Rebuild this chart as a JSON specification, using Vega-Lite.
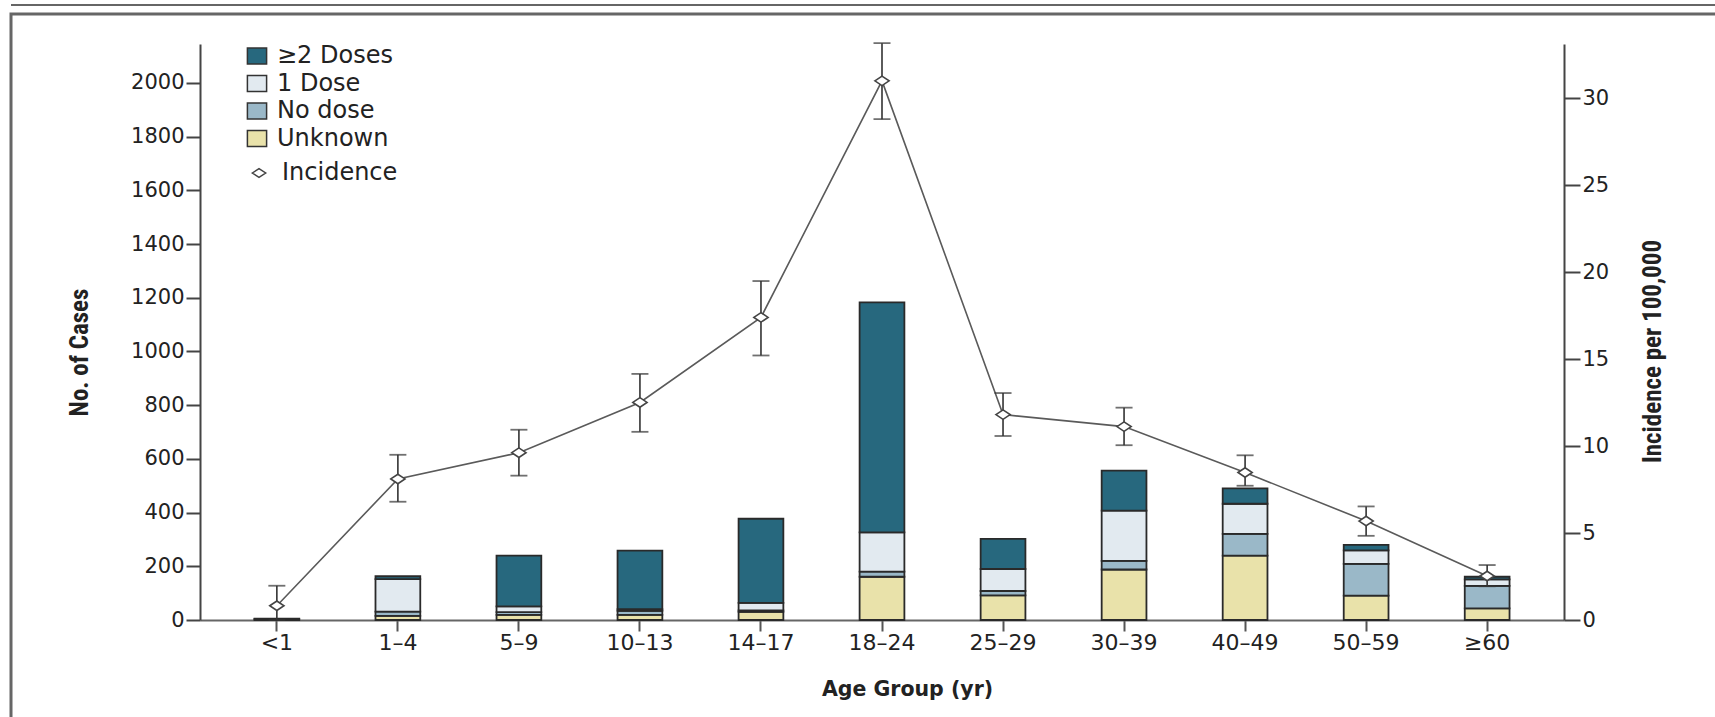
{
  "$schema": "https://vega.github.io/schema/vega-lite/v6.json",
  "width": 1704,
  "height": 703,
  "autosize": {"type": "none"},
  "padding": {"left": 11, "top": 14, "right": 0, "bottom": 0},
  "background": "white",
  "config": {
    "view": {"stroke": "#666666", "strokeWidth": 3, "strokeDash": [1704, 2407, 703]},
    "axis": {"grid": false}
  },
  "datasets": {
    "cases": [
      {"age": "<1", "status": "Unknown", "rank": 1, "n": 3},
      {"age": "<1", "status": "No dose", "rank": 2, "n": 2},
      {"age": "1–4", "status": "Unknown", "rank": 1, "n": 15},
      {"age": "1–4", "status": "No dose", "rank": 2, "n": 16},
      {"age": "1–4", "status": "1 Dose", "rank": 3, "n": 121},
      {"age": "1–4", "status": "≥2 Doses", "rank": 4, "n": 11},
      {"age": "5–9", "status": "Unknown", "rank": 1, "n": 19},
      {"age": "5–9", "status": "No dose", "rank": 2, "n": 10},
      {"age": "5–9", "status": "1 Dose", "rank": 3, "n": 22},
      {"age": "5–9", "status": "≥2 Doses", "rank": 4, "n": 189},
      {"age": "10–13", "status": "Unknown", "rank": 1, "n": 19},
      {"age": "10–13", "status": "No dose", "rank": 2, "n": 15},
      {"age": "10–13", "status": "1 Dose", "rank": 3, "n": 6},
      {"age": "10–13", "status": "≥2 Doses", "rank": 4, "n": 218},
      {"age": "14–17", "status": "Unknown", "rank": 1, "n": 30},
      {"age": "14–17", "status": "No dose", "rank": 2, "n": 6},
      {"age": "14–17", "status": "1 Dose", "rank": 3, "n": 28},
      {"age": "14–17", "status": "≥2 Doses", "rank": 4, "n": 313},
      {"age": "18–24", "status": "Unknown", "rank": 1, "n": 161},
      {"age": "18–24", "status": "No dose", "rank": 2, "n": 19},
      {"age": "18–24", "status": "1 Dose", "rank": 3, "n": 146},
      {"age": "18–24", "status": "≥2 Doses", "rank": 4, "n": 857},
      {"age": "25–29", "status": "Unknown", "rank": 1, "n": 92},
      {"age": "25–29", "status": "No dose", "rank": 2, "n": 16},
      {"age": "25–29", "status": "1 Dose", "rank": 3, "n": 82},
      {"age": "25–29", "status": "≥2 Doses", "rank": 4, "n": 112},
      {"age": "30–39", "status": "Unknown", "rank": 1, "n": 188},
      {"age": "30–39", "status": "No dose", "rank": 2, "n": 32},
      {"age": "30–39", "status": "1 Dose", "rank": 3, "n": 187},
      {"age": "30–39", "status": "≥2 Doses", "rank": 4, "n": 149},
      {"age": "40–49", "status": "Unknown", "rank": 1, "n": 240},
      {"age": "40–49", "status": "No dose", "rank": 2, "n": 81},
      {"age": "40–49", "status": "1 Dose", "rank": 3, "n": 112},
      {"age": "40–49", "status": "≥2 Doses", "rank": 4, "n": 57},
      {"age": "50–59", "status": "Unknown", "rank": 1, "n": 91},
      {"age": "50–59", "status": "No dose", "rank": 2, "n": 118},
      {"age": "50–59", "status": "1 Dose", "rank": 3, "n": 50},
      {"age": "50–59", "status": "≥2 Doses", "rank": 4, "n": 21},
      {"age": "≥60", "status": "Unknown", "rank": 1, "n": 43},
      {"age": "≥60", "status": "No dose", "rank": 2, "n": 84},
      {"age": "≥60", "status": "1 Dose", "rank": 3, "n": 24},
      {"age": "≥60", "status": "≥2 Doses", "rank": 4, "n": 10}
    ],
    "incidence": [
      {"age": "<1", "series": "Incidence", "inc": 0.82, "lo": 0.0, "hi": 1.97},
      {"age": "1–4", "series": "Incidence", "inc": 8.11, "lo": 6.8, "hi": 9.5},
      {"age": "5–9", "series": "Incidence", "inc": 9.62, "lo": 8.3, "hi": 10.94},
      {"age": "10–13", "series": "Incidence", "inc": 12.51, "lo": 10.82, "hi": 14.15},
      {"age": "14–17", "series": "Incidence", "inc": 17.4, "lo": 15.21, "hi": 19.49},
      {"age": "18–24", "series": "Incidence", "inc": 31.0, "lo": 28.8, "hi": 33.17},
      {"age": "25–29", "series": "Incidence", "inc": 11.81, "lo": 10.58, "hi": 13.05},
      {"age": "30–39", "series": "Incidence", "inc": 11.12, "lo": 10.05, "hi": 12.21},
      {"age": "40–49", "series": "Incidence", "inc": 8.48, "lo": 7.72, "hi": 9.47},
      {"age": "50–59", "series": "Incidence", "inc": 5.69, "lo": 4.84, "hi": 6.53},
      {"age": "≥60", "series": "Incidence", "inc": 2.53, "lo": 1.94, "hi": 3.16}
    ]
  },
  "encoding": {
    "x": {
      "field": "age",
      "type": "nominal",
      "sort": null,
      "scale": {
        "type": "band",
        "domain": ["<1", "1–4", "5–9", "10–13", "14–17", "18–24", "25–29", "30–39", "40–49", "50–59", "≥60"],
        "range": [189, 1553],
        "paddingInner": 0.63,
        "paddingOuter": 0.45
      },
      "axis": {
        "orient": "bottom",
        "offset": -97,
        "title": "Age Group (yr)",
        "titleFont": "DejaVu Sans",
        "titleFontSize": 20.5,
        "titleFontWeight": "bold",
        "titleColor": "#222222",
        "titleX": 896,
        "titleY": 75,
        "titleAlign": "center",
        "titleBaseline": "alphabetic",
        "labelAngle": 0,
        "labelFont": "DejaVu Sans",
        "labelFontSize": 22,
        "labelColor": "#222222",
        "labelPadding": 1,
        "tickSize": 11,
        "tickWidth": 2,
        "tickColor": "#555555",
        "domainColor": "#666666",
        "domainWidth": 2
      }
    }
  },
  "layer": [
    {
      "layer": [
        {
          "data": {"name": "cases"},
          "mark": {"type": "bar", "stroke": "#2a2a2a", "strokeWidth": 1.8},
          "encoding": {
            "y": {
              "field": "n",
              "type": "quantitative",
              "stack": "zero",
              "scale": {"domain": [0, 2145], "range": [606, 30], "nice": false, "zero": true},
              "axis": {
                "orient": "left",
                "offset": -189,
                "values": [0, 200, 400, 600, 800, 1000, 1200, 1400, 1600, 1800, 2000],
                "format": "d",
                "title": "No. of Cases",
                "titleFont": "Liberation Sans Narrow, Roboto Condensed, Roboto, sans-serif",
                "titleFontSize": 25,
                "titleFontWeight": "bold",
                "titleColor": "#222222",
                "titleAngle": -90,
                "titleX": -121,
                "titleY": 338,
                "titleAlign": "center",
                "titleBaseline": "middle",
                "labelFont": "DejaVu Sans",
                "labelFontSize": 21,
                "labelColor": "#222222",
                "labelPadding": 2,
                "tickSize": 14,
                "tickWidth": 2,
                "tickColor": "#444444",
                "domainColor": "#444444",
                "domainWidth": 2
              }
            },
            "fill": {
              "field": "status",
              "type": "nominal",
              "scale": {
                "domain": ["≥2 Doses", "1 Dose", "No dose", "Unknown"],
                "range": ["#27687e", "#e2eaf0", "#9ab8c8", "#e9e2aa"]
              },
              "legend": {
                "title": null,
                "orient": "none",
                "legendX": 234,
                "legendY": 30,
                "padding": 0,
                "symbolType": "M-1.2,-1H1.2V1H-1.2Z",
                "symbolSize": 256,
                "symbolStrokeColor": "#333333",
                "symbolStrokeWidth": 1.5,
                "symbolOpacity": 1,
                "labelFont": "DejaVu Sans",
                "labelFontSize": 24,
                "labelColor": "#222222",
                "labelOffset": 8,
                "rowPadding": 3.5
              }
            },
            "order": {"field": "rank", "type": "quantitative"}
          }
        },
        {
          "data": {"values": [{}]},
          "mark": {"type": "rule", "color": "#666666", "strokeWidth": 2, "clip": false},
          "encoding": {
            "x": null,
            "y": {"datum": 2290, "type": "quantitative"}
          }
        }
      ]
    },
    {
      "data": {"name": "incidence"},
      "encoding": {
        "y": {
          "field": "inc",
          "type": "quantitative",
          "scale": {"domain": [0, 33.12], "range": [606, 30], "nice": false, "zero": true},
          "axis": {
            "orient": "right",
            "offset": -151,
            "values": [0, 5, 10, 15, 20, 25, 30],
            "title": "Incidence per 100,000",
            "titleFont": "Liberation Sans Narrow, Roboto Condensed, Roboto, sans-serif",
            "titleFontSize": 25,
            "titleFontWeight": "bold",
            "titleColor": "#222222",
            "titleAngle": -90,
            "titleX": 88,
            "titleY": 337,
            "titleAlign": "center",
            "titleBaseline": "middle",
            "labelFont": "DejaVu Sans",
            "labelFontSize": 21,
            "labelColor": "#222222",
            "labelPadding": 2,
            "tickSize": 16,
            "tickWidth": 2,
            "tickColor": "#444444",
            "domainColor": "#444444",
            "domainWidth": 2
          }
        }
      },
      "layer": [
        {
          "mark": {"type": "line", "color": "#5a5a5a", "strokeWidth": 1.6}
        },
        {
          "mark": {"type": "rule", "color": "#333333", "strokeWidth": 1.6},
          "encoding": {
            "y": {"field": "lo", "type": "quantitative"},
            "y2": {"field": "hi"}
          }
        },
        {
          "mark": {"type": "tick", "color": "#333333", "size": 17, "thickness": 1.8},
          "encoding": {"y": {"field": "lo", "type": "quantitative"}}
        },
        {
          "mark": {"type": "tick", "color": "#333333", "size": 17, "thickness": 1.8},
          "encoding": {"y": {"field": "hi", "type": "quantitative"}}
        },
        {
          "mark": {"type": "point", "filled": true, "fill": "white", "stroke": "#444444", "strokeWidth": 1.6, "size": 90, "opacity": 1},
          "encoding": {
            "shape": {
              "field": "series",
              "type": "nominal",
              "scale": {"domain": ["Incidence"], "range": ["M-1.5,0L0,-1L1.5,0L0,1Z"]},
              "legend": {
                "title": null,
                "orient": "none",
                "legendX": 236,
                "legendY": 147,
                "padding": 0,
                "symbolSize": 80,
                "labelFont": "DejaVu Sans",
                "labelFontSize": 24,
                "labelColor": "#222222",
                "labelOffset": 11,
                "encode": {
                  "symbols": {
                    "update": {
                      "fill": {"value": "white"},
                      "stroke": {"value": "#444444"},
                      "strokeWidth": {"value": 1.6},
                      "opacity": {"value": 1}
                    }
                  }
                }
              }
            }
          }
        }
      ]
    }
  ],
  "resolve": {"scale": {"y": "independent"}}
}
